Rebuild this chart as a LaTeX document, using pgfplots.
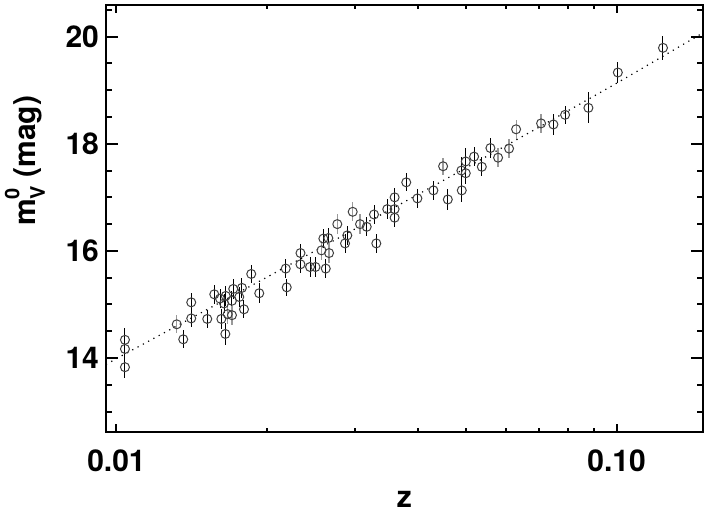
\documentclass[border=0pt]{standalone}
\usepackage{fontspec}
\setmainfont{TeX Gyre Heros}
\usepackage{pgfplots}
\pgfplotsset{compat=1.18}
\usepackage{pgfplotstable}

\pgfplotstableread{
z m e
0.01040 14.34 0.22
0.01040 14.17 0.20
0.01040 13.83 0.20
0.01360 14.35 0.17
0.01411 15.04 0.17
0.01411 14.74 0.16
0.01519 14.73 0.17
0.01569 15.19 0.18
0.01611 15.11 0.17
0.01621 14.73 0.18
0.01654 15.16 0.18
0.01641 15.02 0.18
0.01651 14.45 0.21
0.01712 15.29 0.18
0.01702 15.07 0.18
0.01760 15.14 0.18
0.01782 15.31 0.18
0.01799 14.91 0.17
0.01860 15.57 0.17
0.01930 15.21 0.19
0.02190 15.32 0.16
0.02180 15.67 0.18
0.02333 15.96 0.16
0.02333 15.75 0.17
0.02438 15.70 0.18
0.02500 15.70 0.18
0.02621 15.67 0.18
0.02592 16.23 0.18
0.02652 16.24 0.18
0.02864 16.14 0.18
0.02894 16.29 0.18
0.03165 16.45 0.18
0.03273 16.68 0.18
0.03308 16.14 0.18
0.03479 16.78 0.18
0.03599 17.00 0.18
0.03599 16.78 0.18
0.03599 16.62 0.18
0.03797 17.28 0.17
0.03997 16.98 0.18
0.04302 17.13 0.18
0.04597 16.96 0.20
0.04902 17.13 0.22
0.04893 17.50 0.25
0.04993 17.67 0.25
0.04993 17.45 0.20
0.05188 17.76 0.18
0.05376 17.57 0.18
0.05593 17.92 0.18
0.07475 18.36 0.19
0.07889 18.54 0.17
0.08781 18.67 0.29
0.10055 19.33 0.20
0.12377 19.79 0.22
}\blackdata

\pgfplotstableread{
z m e
0.01320 14.63 0.17
0.01669 14.82 0.18
0.01702 14.80 0.18
0.02570 16.01 0.18
0.02661 15.96 0.18
0.02764 16.50 0.18
0.02967 16.73 0.18
0.03069 16.50 0.18
0.04498 17.58 0.16
0.05794 17.74 0.18
0.06095 17.91 0.18
0.06295 18.27 0.18
0.07063 18.38 0.18
}\graydata

\pgfplotstableread{
z m
0.00953 13.88
0.01000 13.99
0.01500 14.88
0.02000 15.51
0.03000 16.41
0.04000 17.05
0.05000 17.55
0.07000 18.31
0.10000 19.13
0.13000 19.75
0.14880 20.07
}\linedata

\begin{document}
\begin{tikzpicture}
\begin{axis}[
  name=ax,
  xmode=log,
  scale only axis,
  width=298.5pt, height=213.5pt,
  xmin=0.00953, xmax=0.1488,
  ymin=12.62, ymax=20.59,
  xtick={0.01,0.1}, xticklabels={0.01,0.10},
  minor xtick={0.02,0.03,0.04,0.05,0.06,0.07,0.08,0.09},
  ytick={14,16,18,20}, yticklabels={14,16,18,20},
  minor ytick={13,13.5,14.5,15,15.5,16.5,17,17.5,18.5,19,19.5,20.5},
  tick align=inside,
  axis line style={line width=1.1pt},
  tick style={line width=1pt, black},
  major tick length=6pt, minor tick length=3pt,
  xtick style={/pgfplots/major tick length=4pt, /pgfplots/minor tick length=2pt},
  every tick label/.append style={font=\fontsize{15}{18}\selectfont\bfseries},
  xticklabel style={yshift=-5.5pt},
  label style={font=\fontsize{15}{18}\selectfont\bfseries},
  xlabel={z},
  xlabel style={at={(axis description cs:0.5,-0.178)}, anchor=base},
  ylabel={m\rlap{\raisebox{0.55em}{\fontsize{10}{10}\selectfont 0}}\raisebox{-0.3em}{\fontsize{10}{10}\selectfont V} (mag)},
  ylabel style={at={(axis description cs:-0.1357,0.635)}, anchor=center},
  clip=false,
]
\addplot[black, line width=0.6pt, dash pattern=on 0.6pt off 2.4pt] table[x=z,y=m] {\linedata};
\addplot[only marks, mark=o, mark size=2.25pt, mark options={black!75, line width=0.5pt},
  error bars/.cd, y dir=both, y explicit, error mark=none,
  error bar style={black, line width=0.5pt}]
  table[x=z, y=m, y error=e] {\blackdata};
\addplot[only marks, mark=o, mark size=2.25pt, mark options={black!75, line width=0.5pt},
  error bars/.cd, y dir=both, y explicit, error mark=none,
  error bar style={black!40, line width=0.6pt}]
  table[x=z, y=m, y error=e] {\graydata};
\end{axis}
\pgfresetboundingbox
\path[use as bounding box] (ax.south west) ++(-53pt,-41pt) rectangle ([shift={(3pt,2.5pt)}]ax.north east);
\end{tikzpicture}
\end{document}
